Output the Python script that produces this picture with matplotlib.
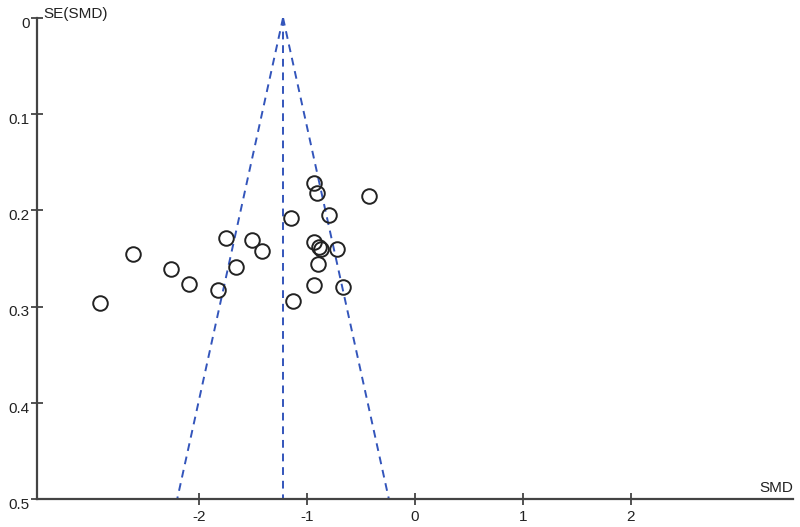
import matplotlib.pyplot as plt
import matplotlib.transforms as mtransforms
import numpy as np

plt.rcParams["font.family"] = ["Liberation Sans", "DejaVu Sans"]

# study estimates (SMD) and their standard errors
smd = [-0.935, -0.910, -0.426, -1.148, -0.794, -1.750, -1.509, -1.417,
       -0.935, -0.889, -0.870, -0.719, -2.611, -2.256, -1.660, -0.895,
       -2.093, -1.821, -0.935, -0.669, -1.127, -2.919]
se = [0.172, 0.182, 0.185, 0.208, 0.205, 0.229, 0.231, 0.242,
      0.233, 0.238, 0.240, 0.240, 0.245, 0.261, 0.259, 0.256,
      0.276, 0.283, 0.278, 0.280, 0.294, 0.296]
pooled = -1.22
se_max = 0.5

xticks = [-2, -1, 0, 1, 2]
yticks = [0, 0.1, 0.2, 0.3, 0.4, 0.5]

fig = plt.figure(figsize=(8, 5.27), dpi=100)
ax = fig.add_axes([0.046, 0.053, 0.945, 0.913])

axis_col = "#444444"
funnel_col = "#3355bb"
text_col = "#222222"

# pseudo 95% confidence limits
se_line = np.array([0, se_max])
ax.plot(pooled - 1.96 * se_line, se_line, ls=(0, (4, 3)), color=funnel_col, lw=1.4)
ax.plot(pooled + 1.96 * se_line, se_line, ls=(0, (4, 3)), color=funnel_col, lw=1.4)
ax.plot([pooled, pooled], [0, se_max], ls=(0, (4, 3)), color=funnel_col, lw=1.4)

ax.plot(smd, se, "o", mfc="none", mec="#222222", mew=1.4, ms=10.5, ls="none")

ax.set_xlim(-3.5, 3.5)
ax.set_ylim(0.5, 0)
ax.set_xticks(xticks)
ax.set_xticklabels([str(t) for t in xticks])
ax.set_yticks(yticks)
ax.set_yticklabels(["0", "0.1", "0.2", "0.3", "0.4", "0.5"])

for s in ["top", "right"]:
    ax.spines[s].set_visible(False)
for s in ["left", "bottom"]:
    ax.spines[s].set_color(axis_col)
    ax.spines[s].set_linewidth(1.6)

ax.tick_params(axis="both", direction="inout", length=8, width=1.3,
               color=axis_col, labelsize=11, labelcolor=text_col)
ax.tick_params(axis="x", pad=4)
ax.tick_params(axis="y", pad=1)

# y labels sit a touch below their ticks in the original
shift = mtransforms.ScaledTranslation(0, -3 / 72, fig.dpi_scale_trans)
for lbl in ax.get_yticklabels():
    lbl.set_transform(lbl.get_transform() + shift)

ax.annotate("SE(SMD)", xy=(0, 1), xycoords="axes fraction",
            xytext=(5, 3), textcoords="offset points",
            fontsize=11, color=text_col, ha="left", va="center")
ax.annotate("SMD", xy=(1, 0), xycoords="axes fraction",
            xytext=(0, 3), textcoords="offset points",
            fontsize=11, color=text_col, ha="right", va="bottom")

fig.savefig("out.png", dpi=100)
